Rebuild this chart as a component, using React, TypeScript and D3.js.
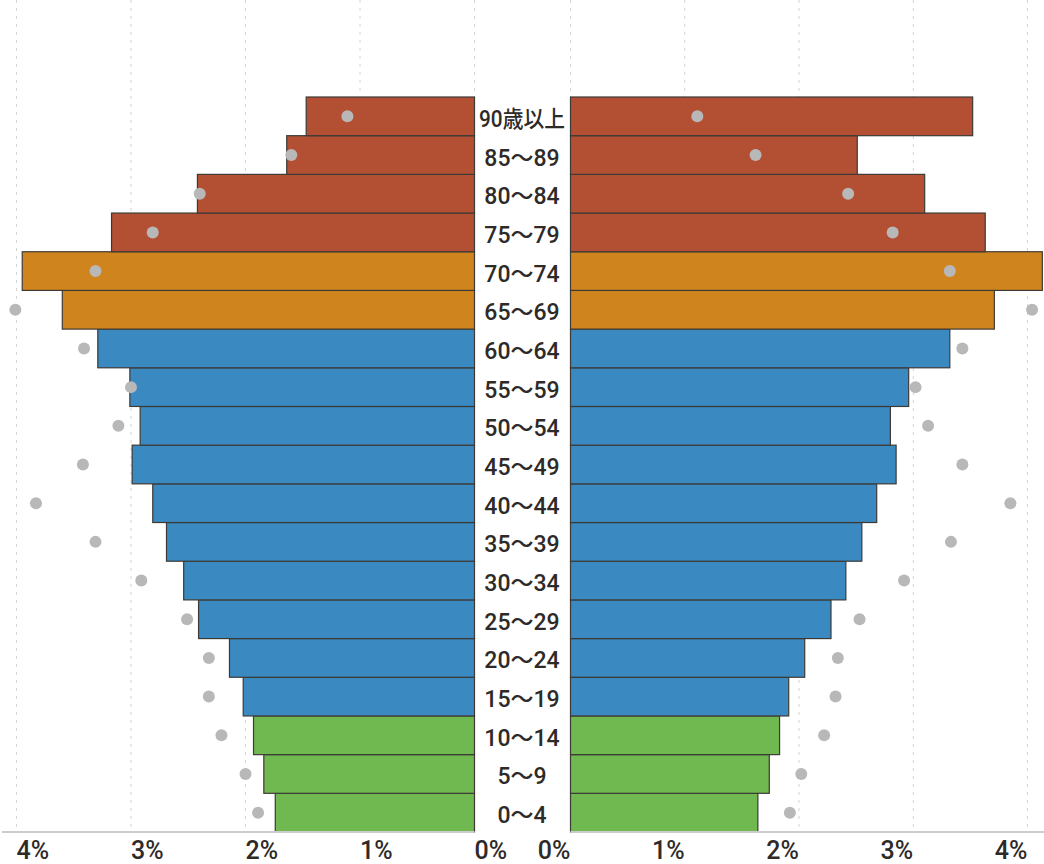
import React from "react";
import * as d3 from "d3";

const ages = [
  "0～4", "5～9", "10～14", "15～19", "20～24", "25～29", "30～34", "35～39",
  "40～44", "45～49", "50～54", "55～59", "60～64", "65～69", "70～74",
  "75～79", "80～84", "85～89", "90歳以上",
];
// left side (bars), %
const leftBars = [1.74, 1.84, 1.93, 2.02, 2.14, 2.41, 2.54, 2.69, 2.81, 2.99, 2.92, 3.01, 3.29, 3.60, 3.95, 3.17, 2.42, 1.64, 1.47];
// left side reference dots, %
const leftDots = [1.89, 2.0, 2.21, 2.32, 2.32, 2.51, 2.91, 3.31, 3.83, 3.42, 3.11, 3.0, 3.41, 4.01, 3.31, 2.81, 2.40, 1.60, 1.11];
// right side (bars), %
const rightBars = [1.64, 1.74, 1.83, 1.91, 2.05, 2.28, 2.41, 2.55, 2.68, 2.85, 2.80, 2.96, 3.32, 3.71, 4.13, 3.63, 3.10, 2.51, 3.52];
// right side reference dots, %
const rightDots = [1.92, 2.02, 2.22, 2.32, 2.34, 2.53, 2.92, 3.33, 3.85, 3.43, 3.13, 3.02, 3.43, 4.04, 3.32, 2.82, 2.43, 1.62, 1.11];
const ageGroupColor = ["young", "young", "young", "work", "work", "work", "work", "work", "work", "work", "work", "work", "work", "old1", "old1", "old2", "old2", "old2", "old2"];
const tickValues = [0, 1, 2, 3, 4];

const colors: Record<string, string> = {
  young: "#70b850",
  work: "#3a89c1",
  old1: "#d0841e",
  old2: "#b35034",
};

const W = 1044;
const H = 864;
const axisY = 832;

export default function App() {
  const y = d3.scaleBand<string>().domain([...ages].reverse()).range([97, axisY]).padding(0);
  const xL = d3.scaleLinear().domain([0, 4]).range([474.5, 16.5]);
  const xR = d3.scaleLinear().domain([0, 4]).range([570.5, 1027.5]);
  const bw = y.bandwidth();
  const font = "Roboto, 'Noto Sans CJK JP', sans-serif";

  return (
    <svg width={W} height={H} style={{ position: "absolute", left: 0, top: 0, background: "#fff" }}>
      {/* gridlines */}
      {tickValues.map((t) => (
        <g key={"g" + t}>
          <line x1={xL(t)} x2={xL(t)} y1={0} y2={axisY} stroke="#d4d4d4" strokeWidth={1} strokeDasharray="3,5" />
          <line x1={xR(t)} x2={xR(t)} y1={0} y2={axisY} stroke="#d4d4d4" strokeWidth={1} strokeDasharray="3,5" />
        </g>
      ))}
      {/* bars */}
      {ages.map((a, i) => (
        <g key={"b" + a}>
          <rect x={xL(leftBars[i])} y={y(a)} width={xL(0) - xL(leftBars[i])} height={bw}
            fill={colors[ageGroupColor[i]]} stroke="#3d3a36" strokeWidth={1.2} />
          <rect x={xR(0)} y={y(a)} width={xR(rightBars[i]) - xR(0)} height={bw}
            fill={colors[ageGroupColor[i]]} stroke="#3d3a36" strokeWidth={1.2} />
        </g>
      ))}
      {/* dots */}
      {ages.map((a, i) => (
        <g key={"d" + a}>
          <circle cx={xL(leftDots[i])} cy={(y(a) as number) + bw / 2} r={6} fill="#b8b8b8" />
          <circle cx={xR(rightDots[i])} cy={(y(a) as number) + bw / 2} r={6} fill="#b8b8b8" />
        </g>
      ))}
      {/* axis lines */}
      <line x1={2} x2={xL(0)} y1={axisY} y2={axisY} stroke="#cccccc" strokeWidth={2} />
      <line x1={xR(0)} x2={W} y1={axisY} y2={axisY} stroke="#cccccc" strokeWidth={2} />
      {/* tick labels */}
      {tickValues.map((t) => (
        <g key={"t" + t}>
          <text x={xL(t)} y={859} textAnchor="start" fontSize={25} fontWeight={500} fill="#2e2a28" fontFamily={font}>{t}%</text>
          <text x={xR(t)} y={859} textAnchor="end" fontSize={25} fontWeight={500} fill="#2e2a28" fontFamily={font}>{t}%</text>
        </g>
      ))}
      {/* age labels */}
      {ages.map((a) => (
        <text key={"l" + a} x={522} y={(y(a) as number) + bw / 2 + 10.5} textAnchor="middle" fontSize={23}
          fontWeight={500} fill="#2e2a28" fontFamily={font}
          {...(a.includes("歳") ? { textLength: 86, lengthAdjust: "spacingAndGlyphs" } : {})}>{a}</text>
      ))}
    </svg>
  );
}
